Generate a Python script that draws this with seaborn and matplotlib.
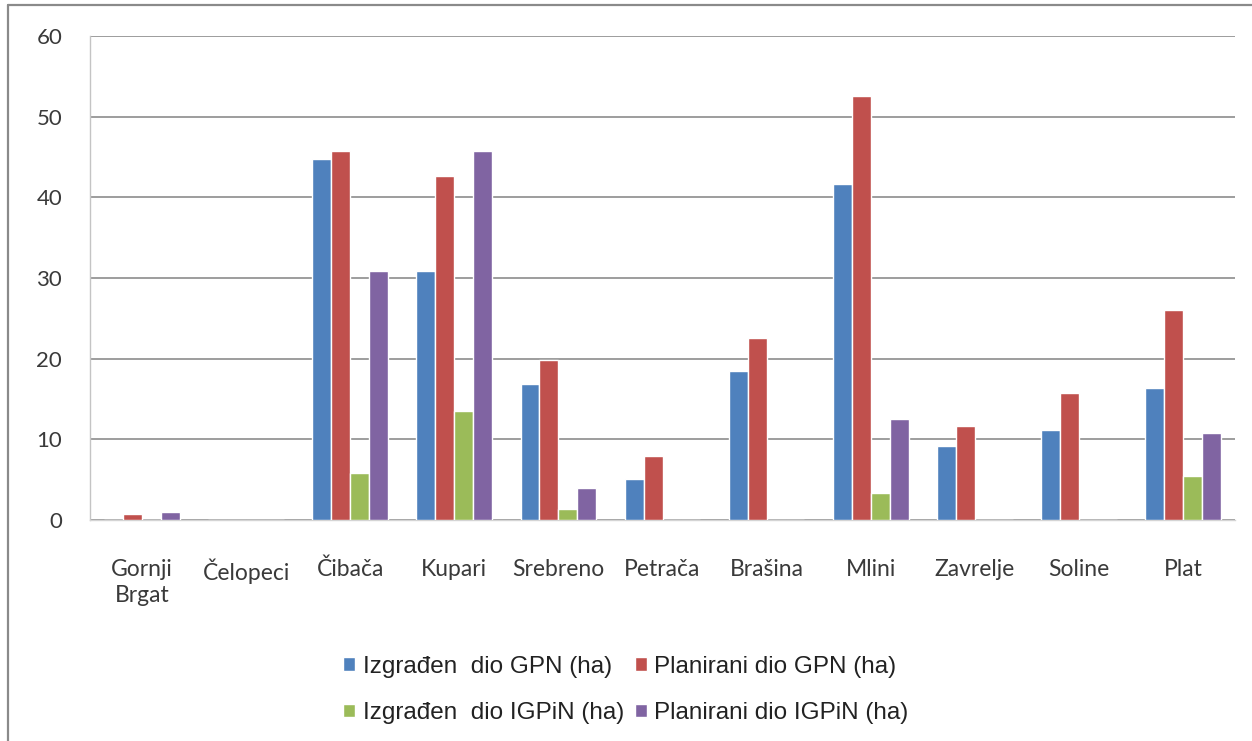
import matplotlib
matplotlib.use("Agg")
import matplotlib.pyplot as plt
from matplotlib.lines import Line2D
from matplotlib.ticker import FixedLocator
import seaborn as sns
import pandas as pd

# Settlements (x categories)
naselja = ["Gornji\nBrgat", "Čelopeci", "Čibača", "Kupari", "Srebreno", "Petrača",
           "Brašina", "Mlini", "Zavrelje", "Soline", "Plat"]

# Area in hectares per series
izgradjen_gpn = [0.0, 0.0, 44.8, 30.9, 16.9, 5.1, 18.5, 41.7, 9.2, 11.2, 16.4]
planirani_gpn = [0.8, 0.0, 45.7, 42.6, 19.8, 7.9, 22.6, 52.6, 11.6, 15.7, 26.0]
izgradjen_igpin = [0.0, 0.0, 5.8, 13.5, 1.4, 0.0, 0.0, 3.3, 0.0, 0.0, 5.5]
planirani_igpin = [1.0, 0.0, 30.9, 45.7, 4.0, 0.0, 0.0, 12.5, 0.0, 0.0, 10.8]

serije = ["Izgrađen  dio GPN (ha)", "Planirani dio GPN (ha)",
          "Izgrađen  dio IGPiN (ha)", "Planirani dio IGPiN (ha)"]
boje = ["#4F81BD", "#C0504D", "#9BBB59", "#8064A2"]
y_ticks = [0, 10, 20, 30, 40, 50, 60]

rows = []
for naziv, vrijednosti in zip(serije, [izgradjen_gpn, planirani_gpn,
                                      izgradjen_igpin, planirani_igpin]):
    for n, v in zip(naselja, vrijednosti):
        rows.append({"naselje": n, "serija": naziv, "ha": v})
df = pd.DataFrame(rows)

sns.set_theme(style="white")
plt.rcParams["font.family"] = ["Lato", "DejaVu Sans"]

fig = plt.figure(figsize=(12.52, 7.41), dpi=100)
ax = fig.add_axes([90 / 1252, 1 - 520 / 741, (1235 - 90) / 1252, (520 - 36) / 741])

sns.barplot(data=df, x="naselje", y="ha", hue="serija", order=naselja,
            hue_order=serije, palette=boje, width=0.727, saturation=1,
            errorbar=None, ax=ax, zorder=3)

ax.set_xlim(-0.5, len(naselja) - 0.5)
ax.set_ylim(0, 60)
ax.yaxis.set_major_locator(FixedLocator(y_ticks))
ax.set_xlabel("")
ax.set_ylabel("")

grid_col = "#8c8c8c"
ax.yaxis.grid(True, color=grid_col, linewidth=1.2, zorder=0)
ax.set_axisbelow(True)
for s in ["top", "right"]:
    ax.spines[s].set_visible(False)
ax.spines["left"].set_color("#c4c4c4")
ax.spines["left"].set_linewidth(1.0)
ax.spines["bottom"].set_color("#d4d4d4")
ax.spines["bottom"].set_linewidth(1.0)

text_col = "#3a3a3a"
ax.tick_params(axis="y", which="major", length=7, width=1.2, color=grid_col,
               pad=13, labelsize=16, labelcolor=text_col)
ax.tick_params(axis="x", which="major", length=0, pad=28, labelsize=16.5,
               labelcolor=text_col)
ax.xaxis.set_minor_locator(FixedLocator([i - 0.5 for i in range(len(naselja) + 1)]))
ax.tick_params(axis="x", which="minor", length=9, width=1.0, color="#b0b0b0")
for lbl in ax.get_xticklabels():
    lbl.set_linespacing(1.3)
    lbl.set_verticalalignment("top")

handles, labels = ax.get_legend_handles_labels()
ax.get_legend().remove()
order = [0, 2, 1, 3]
fig.legend([handles[i] for i in order], [labels[i] for i in order],
           loc="center", bbox_to_anchor=(626 / 1252, 1 - 690 / 741), ncol=2,
           frameon=False, handlelength=0.5, handleheight=0.5,
           handletextpad=0.3, columnspacing=0.45, labelspacing=1.0,
           prop={"family": ["Liberation Sans", "DejaVu Sans"], "size": 17.5},
           labelcolor="#222222")

# Outer frame: top and left edges
fig.add_artist(Line2D([8 / 1252, 1.0], [1 - 5 / 741, 1 - 5 / 741],
                      transform=fig.transFigure, color="#8a8a8a", linewidth=1.6))
fig.add_artist(Line2D([8 / 1252, 8 / 1252], [0.0, 1 - 5 / 741],
                      transform=fig.transFigure, color="#8a8a8a", linewidth=1.6))

fig.savefig("out.png", dpi=100)
